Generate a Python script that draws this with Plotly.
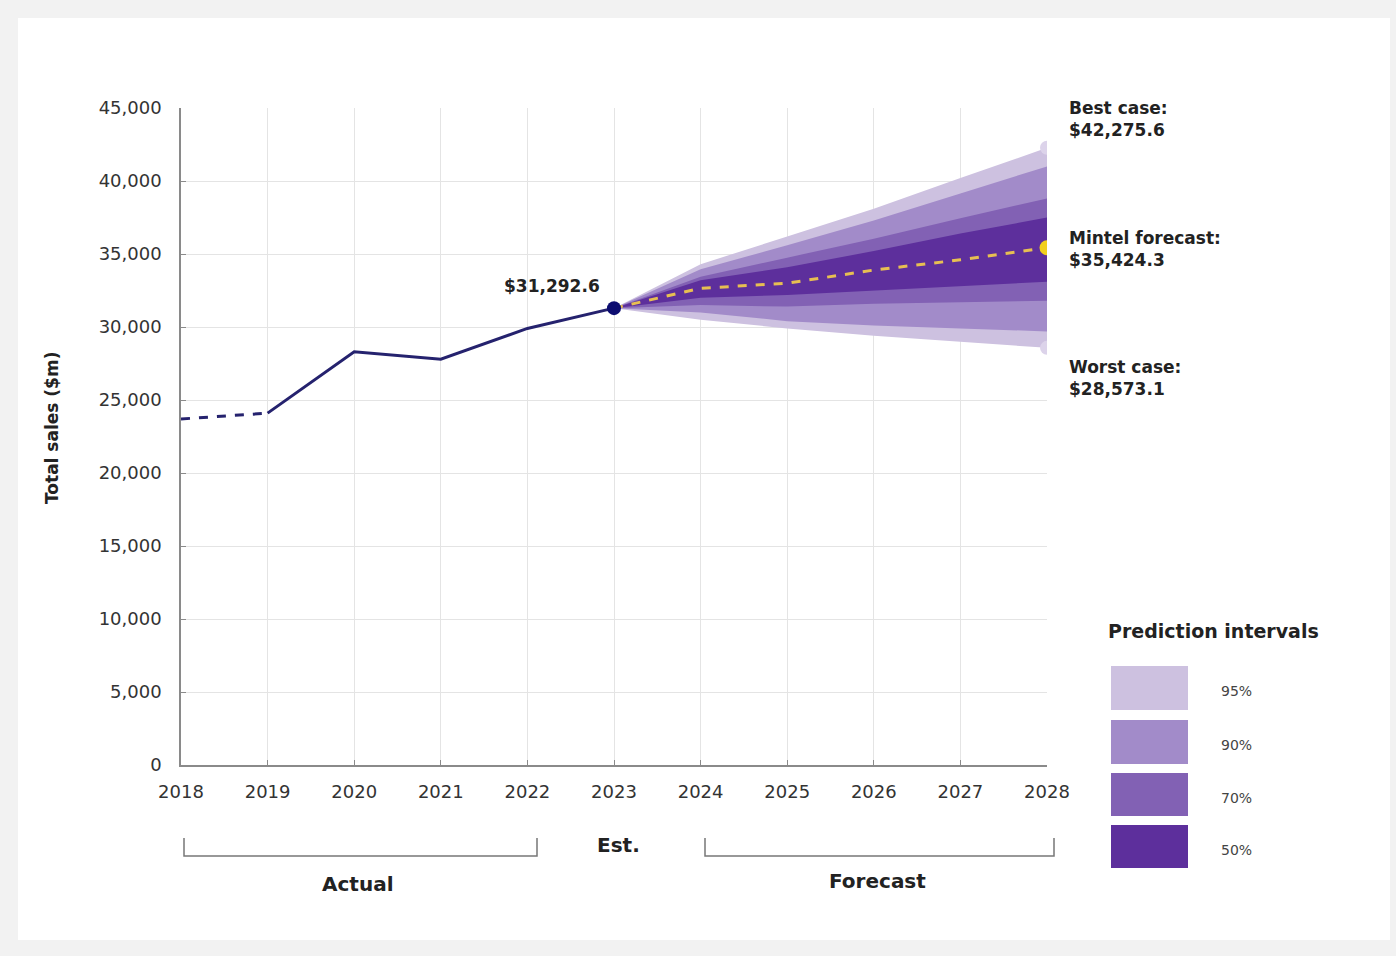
import plotly.graph_objects as go

# ---- data ----
actual_years = [2018, 2019, 2020, 2021, 2022, 2023]
actual_sales = [23700, 24100, 28300, 27800, 29900, 31292.6]

fc_years = [2023, 2024, 2025, 2026, 2027, 2028]
fc_mid = [31292.6, 32650, 33000, 33900, 34600, 35424.3]
p95_hi = [31292.6, 34300, 36200, 38100, 40200, 42275.6]
p95_lo = [31292.6, 30500, 29900, 29400, 29000, 28573.1]
p90_hi = [31292.6, 33950, 35600, 37300, 39150, 41000]
p90_lo = [31292.6, 31000, 30400, 30100, 29900, 29700]
p70_hi = [31292.6, 33450, 34750, 36050, 37450, 38800]
p70_lo = [31292.6, 31500, 31400, 31600, 31700, 31800]
p50_hi = [31292.6, 33200, 34100, 35200, 36400, 37500]
p50_lo = [31292.6, 32000, 32200, 32500, 32800, 33100]

band_names = ["95%", "90%", "70%", "50%"]
band_colors = ["#cdc1e0", "#a28bc9", "#8261b4", "#5d2f9c"]

year_ticks = list(range(2018, 2029))
y_ticks = list(range(0, 45001, 5000))

FONT = "DejaVu Sans"
TXT = "#222222"

fig = go.Figure()

# ---- bands ----
bands = [(p95_hi, p95_lo), (p90_hi, p90_lo), (p70_hi, p70_lo), (p50_hi, p50_lo)]
for (hi, lo), name, col in zip(bands, band_names, band_colors):
    fig.add_trace(go.Scatter(
        x=fc_years + fc_years[::-1], y=hi + lo[::-1],
        fill="toself", fillcolor=col, line=dict(width=0),
        mode="lines", name=name, hoverinfo="skip", showlegend=False))

# ---- actual line ----
fig.add_trace(go.Scatter(x=actual_years[:2], y=actual_sales[:2], mode="lines",
                         line=dict(color="#25226e", width=3, dash="dash"), showlegend=False))
fig.add_trace(go.Scatter(x=actual_years[1:], y=actual_sales[1:], mode="lines",
                         line=dict(color="#25226e", width=3), showlegend=False))

# ---- forecast line ----
fig.add_trace(go.Scatter(x=fc_years, y=fc_mid, mode="lines",
                         line=dict(color="#e7bf52", width=3, dash="dash"), showlegend=False))

# ---- markers ----
fig.add_trace(go.Scatter(x=[actual_years[-1]], y=[actual_sales[-1]], mode="markers",
                         marker=dict(color="#0c0c70", size=14), showlegend=False))
fig.add_trace(go.Scatter(x=[fc_years[-1]], y=[fc_mid[-1]], mode="markers",
                         marker=dict(color="#f2cf1e", size=15), showlegend=False))
fig.add_trace(go.Scatter(x=[fc_years[-1], fc_years[-1]], y=[p95_hi[-1], p95_lo[-1]], mode="markers",
                         marker=dict(color="#dcd3ea", size=14), showlegend=False))

# ---- layout ----
L, R, T, B = 181, 349, 108, 191
PW, PH = 1396 - L - R, 956 - T - B

def px(x):
    return (x - L) / PW

def py(y):
    return (956 - B - y) / PH

shapes = [
    dict(type="rect", xref="paper", yref="paper", x0=px(18), x1=px(1390), y0=py(940), y1=py(18),
         fillcolor="white", line=dict(width=0), layer="below"),
]
# brackets
for x0, x1 in [(184, 537), (705, 1054)]:
    shapes.append(dict(type="path", xref="paper", yref="paper",
                       path=f"M {px(x0)} {py(838)} L {px(x0)} {py(856)} L {px(x1)} {py(856)} L {px(x1)} {py(838)}",
                       line=dict(color="#777777", width=1.5)))
# legend swatches
sw_y = [(666, 710), (720, 764), (773, 816), (825, 868)]
for (y0, y1), col in zip(sw_y, band_colors):
    shapes.append(dict(type="rect", xref="paper", yref="paper", x0=px(1111), x1=px(1188),
                       y0=py(y1), y1=py(y0), fillcolor=col, line=dict(width=0)))

annotations = []
def ann(text, x, y, size, xanchor="left", bold=True, color=TXT, angle=0):
    annotations.append(dict(text=f"<b>{text}</b>" if bold else text, xref="paper", yref="paper",
                            x=px(x), y=py(y), xanchor=xanchor, yanchor="middle", showarrow=False,
                            align="left", textangle=angle,
                            font=dict(family=FONT, size=size, color=color)))

ann("$31,292.6", 552, 286, 17, xanchor="center")
ann("Best case:<br>$42,275.6", 1067, 119, 17)
ann("Mintel forecast:<br>$35,424.3", 1067, 249, 17)
ann("Worst case:<br>$28,573.1", 1067, 378, 17)
ann("Prediction intervals", 1106, 631, 19)
for (y0, y1), name in zip(sw_y, band_names):
    ann(name, 1219, (y0 + y1) / 2 + 3, 14, bold=False, color="#444444")
ann("Actual", 357, 884, 20, xanchor="center")
ann("Est.", 618, 845, 20, xanchor="center")
ann("Forecast", 877, 881, 20, xanchor="center")
ann("Total sales ($m)", 52, 428, 17, xanchor="center", angle=-90)

fig.update_layout(
    width=1396, height=956,
    margin=dict(l=L, r=R, t=T, b=B, autoexpand=False),
    paper_bgcolor="#f2f2f2", plot_bgcolor="white",
    font=dict(family=FONT, color=TXT, size=14),
    shapes=shapes, annotations=annotations, showlegend=False,
    xaxis=dict(range=[2018, 2028], tickvals=year_ticks, ticktext=[str(y) for y in year_ticks],
               showgrid=True, gridcolor="#e4e4e4", gridwidth=1, zeroline=False,
               showline=True, linecolor="#8a8a8a", linewidth=1.5,
               ticks="inside", ticklen=5, tickcolor="#8a8a8a", ticklabelstandoff=10,
               tickfont=dict(family=FONT, size=18, color="#333333"), fixedrange=True),
    yaxis=dict(range=[0, 45000], tickvals=y_ticks, tickformat=",d",
               showgrid=True, gridcolor="#e4e4e4", gridwidth=1, zeroline=False,
               showline=True, linecolor="#8a8a8a", linewidth=1.5,
               ticks="inside", ticklen=5, tickcolor="#8a8a8a", ticklabelstandoff=14,
               tickfont=dict(family=FONT, size=18, color="#333333"), fixedrange=True),
)

fig.write_html("out.html")
